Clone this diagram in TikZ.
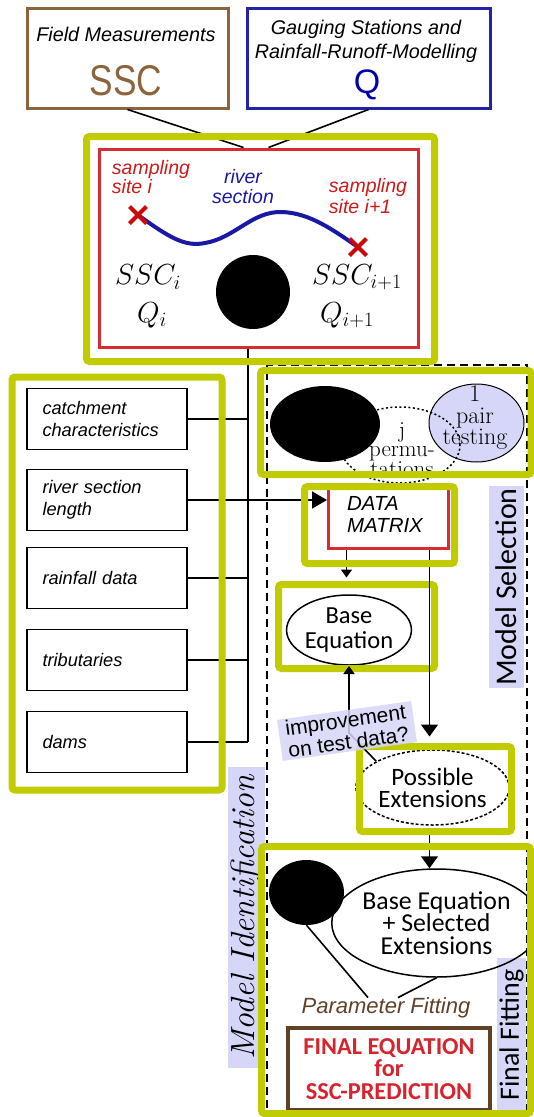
\documentclass[tikz,border=0pt]{standalone}
\usepackage{fix-cm}
\usepackage{graphicx}
\usepackage{fontspec}
\usetikzlibrary{shapes.misc,shapes.geometric,arrows.meta,calc}
\newfontfamily\arialfont{Liberation Sans}
\newfontfamily\calfont{Carlito}
\newcommand\fsz[2]{\fontsize{#1}{#2}\selectfont}

\definecolor{gframe}{RGB}{192,204,0}
\definecolor{lav}{RGB}{214,214,248}
\definecolor{secred}{RGB}{215,45,50}
\definecolor{txtred}{RGB}{205,25,25}
\definecolor{xred}{RGB}{200,10,10}
\definecolor{boxbrown}{RGB}{140,100,60}
\definecolor{boxblue}{RGB}{35,35,170}
\definecolor{qblue}{RGB}{0,0,170}
\definecolor{rvblue}{RGB}{25,25,165}
\definecolor{febrown}{RGB}{95,65,40}
\definecolor{fered}{RGB}{215,35,45}

\tikzset{
  gbox/.style={draw=gframe, line width=7pt, rounded corners=3pt, inner sep=0pt},
  lbox/.style={draw=black, line width=1.6pt, minimum width=160pt, minimum height=61pt,
    inner xsep=15.5pt, inner ysep=0pt, text width=129pt, align=left,
    font=\arialfont\itshape\fsz{18.2}{22}},
  conn/.style={draw=black, line width=1.6pt},
  arr/.style={conn, -{Triangle[length=12pt,width=17pt]}},
  arrsmall/.style={conn, -{Triangle[length=8pt,width=11pt]}},
  tx/.style={inner sep=0pt},
  lavlabel/.style={fill=lav, inner sep=0pt, rotate=90},
  sitex/.style={cross out, draw=xred, line width=4pt, minimum size=13pt, inner sep=0pt},
  blob/.style={ellipse, fill=black, inner sep=0pt},
  oval/.style={ellipse, draw=black, line width=1.5pt, inner sep=0pt, align=center},
}

\begin{document}
\begin{tikzpicture}[x=1pt,y=-1pt]
\useasboundingbox (0,0) rectangle (534,1117);

% --- shaded side labels ---
\node[lavlabel, minimum width=301pt, minimum height=37pt, font=\itshape\fsz{33.5}{33.5}] (mil) at (246.5,917.5) {Model Identification};
\node[lavlabel, minimum width=202pt, minimum height=35pt, font=\calfont\fsz{30}{30}] (msl) at (506.5,587) {Model Selection};
\node[lavlabel, minimum width=154pt, minimum height=29pt, font=\calfont\fsz{28}{28}] (ffl) at (511.5,1035) {Final Fitting};

% --- dashed frame of the selection and fitting stages ---
\node[draw=black, line width=2pt, dash pattern=on 8pt off 5pt, minimum width=260pt, minimum height=760pt, inner sep=0pt] (msframe) at (397,745) {};

% --- data sources ---
\node[draw=boxbrown, line width=3pt, minimum width=201pt, minimum height=100pt, inner sep=0pt] (fm) at (127.5,58) {};
\node[tx, font=\arialfont\itshape\fsz{19.8}{20}] (fmtxt) at (126,34) {Field Measurements};
\node[tx, text=boxbrown, font=\arialfont\fsz{43}{43}] (ssc) at (126,81) {\scalebox{0.82}[1]{SSC}};

\node[draw=boxblue, line width=3pt, minimum width=243pt, minimum height=100pt, inner sep=0pt] (gs) at (368.5,58) {};
\node[tx, font=\arialfont\itshape\fsz{19.8}{24}, align=center] (gstxt) at (366,41) {Gauging Stations and\\Rainfall-Runoff-Modelling};
\node[tx, text=qblue, font=\arialfont\fsz{34}{34}] (q) at (367,85) {Q};

% --- river section between two sampling sites ---
\node[draw=secred, line width=3pt, minimum width=319pt, minimum height=198pt, inner sep=0pt] (sec) at (258.5,248) {};
\coordinate (siteApos) at (138,215);
\coordinate (siteBpos) at (358,247);
\draw[rvblue, line width=4pt] (siteApos) .. controls (170,238) and (185,247) .. (205,243)
  .. controls (235,238) and (252,211) .. (282,212)
  .. controls (310,213) and (333,230) .. (siteBpos);
\node[sitex] (siteA) at (siteApos) {};
\node[sitex] (siteB) at (siteBpos) {};
\node[tx, text=txtred, font=\arialfont\itshape\fsz{19.5}{18}, align=left] (siteAtxt) at (151,177) {sampling\\site i};
\node[tx, text=rvblue, font=\arialfont\itshape\fsz{19.5}{20}, align=center] (rvtxt) at (243,187) {river\\section};
\node[tx, text=txtred, font=\arialfont\itshape\fsz{19.5}{21}, align=left] (siteBtxt) at (368,196) {sampling\\site i+1};
\node[tx, font=\fsz{29}{29}] (sscA) at (148,277) {$SSC_i$};
\node[tx, font=\fsz{29}{29}] (qA) at (152,315) {$Q_i$};
\node[tx, font=\fsz{29}{29}] (sscB) at (357,277) {$SSC_{i+1}$};
\node[tx, font=\fsz{29}{29}] (qB) at (347,315) {$Q_{i+1}$};
\node[blob, minimum width=74pt, minimum height=74pt] (blobA) at (253,292) {};

% --- catchment attributes ---
\node[lbox] (b1) at (107,419) {catchment characteristics};
\node[lbox] (b2) at (107,500) {river section length};
\node[lbox] (b3) at (107,578) {rainfall data};
\node[lbox] (b4) at (107,660) {tributaries};
\node[lbox] (b5) at (107,742) {dams};

% --- pair testing ---
\node[ellipse, draw=black, line width=1pt, fill=lav, minimum width=95pt, minimum height=78pt, inner sep=0pt] (pair) at (476.5,423) {};
\node[ellipse, draw=black, line width=1.5pt, dash pattern=on 2pt off 2.5pt, minimum width=120pt, minimum height=76pt, inner sep=0pt] (perm) at (400,445) {};
\node[blob, minimum width=110pt, minimum height=76pt] (blobB) at (325,424) {};
\node[tx, font=\fsz{24}{21.5}, align=center] (pairtxt) at (475,418) {1\\pair\\testing};
\node[tx, font=\fsz{23}{19}, align=center] (permtxt) at (402,450) {j\\permu-\\tations};

% --- selection stage ---
\node[draw=secred, line width=3pt, minimum width=120pt, minimum height=60pt, inner sep=0pt] (dm) at (388.5,518.5) {};
\node[tx, font=\arialfont\itshape\fsz{20.4}{22}, align=left] (dmtxt) at (385,514) {DATA\\MATRIX};
\node[oval, minimum width=114pt, minimum height=70pt, font=\calfont\fsz{24.5}{25}] (be) at (349,630) {Base\\Equation};
\node[oval, dash pattern=on 3pt off 2pt, minimum width=139pt, minimum height=75pt, font=\calfont\fsz{25}{22}] (pe) at (432.5,787.5) {Possible\\Extensions};

% --- fitting stage ---
\node[blob, minimum width=75pt, minimum height=65pt] (blobC) at (306.5,892.5) {};
\node[oval, minimum width=177pt, minimum height=108pt, font=\calfont\fsz{25.8}{22.5}] (bese) at (436.5,923) {Base Equation\\+ Selected\\Extensions};
\node[tx, text=febrown, font=\arialfont\itshape\fsz{22}{22}] (pf) at (386,1008) {Parameter Fitting};
\node[draw=febrown, line width=4.5pt, minimum width=202pt, minimum height=82pt, inner sep=0pt, text=fered, font=\calfont\bfseries\fsz{24.3}{22.5}, align=center] (fe) at (389,1069) {FINAL EQUATION\\for\\SSC-PREDICTION};

% --- connector anchors ---
\coordinate (trunk) at ([xshift=-10.5pt]sec.south);
\coordinate (dmL) at ([xshift=19.5pt]dm.south west);
\coordinate (dmR) at ([xshift=-20.5pt]dm.south east);

% --- connectors ---
\draw[conn] (fm.south) -- ([xshift=-15pt]sec.north);
\draw[conn] (gs.south) -- ([xshift=10pt]sec.north);
\draw[conn] (trunk) -- (trunk |- b5.east);
\draw[conn] (b1.east) -- (b1.east -| trunk);
\draw[conn] (b3.east) -- (b3.east -| trunk);
\draw[conn] (b4.east) -- (b4.east -| trunk);
\draw[conn] (b5.east) -- (b5.east -| trunk);
\draw[conn, -{Triangle[length=15pt,width=17pt]}] (b2.east) -- (b2.east -| dm.west);

\node[gbox, minimum width=156pt, minimum height=84pt] (gBE) at (356.5,626.5) {};
\node[gbox, minimum width=152pt, minimum height=85pt] (gPE) at (435.5,789) {};

\draw[arrsmall, shorten >=3.5pt] (dmL) -- (dmL |- gBE.north);
\draw[arr, shorten >=6.5pt] (dmR) -- (dmR |- gPE.north);
\draw[arr] (dmR |- gPE.south) -- (dmR |- bese.north);
\draw[arrsmall, shorten >=-6pt] (pe.155) -- (be.south |- 0,733) -- (be.south |- gBE.south);
\draw[conn] (blobC.south) -- ([xshift=-18pt]pf.north);
\draw[conn] (bese.south) -- ([xshift=12pt]pf.north);

\node[fill=lav, fill opacity=0.85, text opacity=1, rotate=8, inner xsep=7pt, inner ysep=2pt, font=\arialfont\fsz{21}{22}, align=center] (impr) at (347,731) {improvement\\on test data?};

% --- green frames on top ---
\node[gbox, minimum width=348pt, minimum height=225pt] (gA) at (260.5,249) {};
\node[gbox, minimum width=210pt, minimum height=413pt] (gL) at (117,583.5) {};
\node[gbox, minimum width=270.5pt, minimum height=104pt] (gB) at (395.75,422.5) {};
\node[gbox, minimum width=150pt, minimum height=77pt] (gDM) at (379.5,525) {};
\node[gbox, minimum width=269pt, minimum height=267pt] (gFF) at (396,980) {};
\end{tikzpicture}
\end{document}
